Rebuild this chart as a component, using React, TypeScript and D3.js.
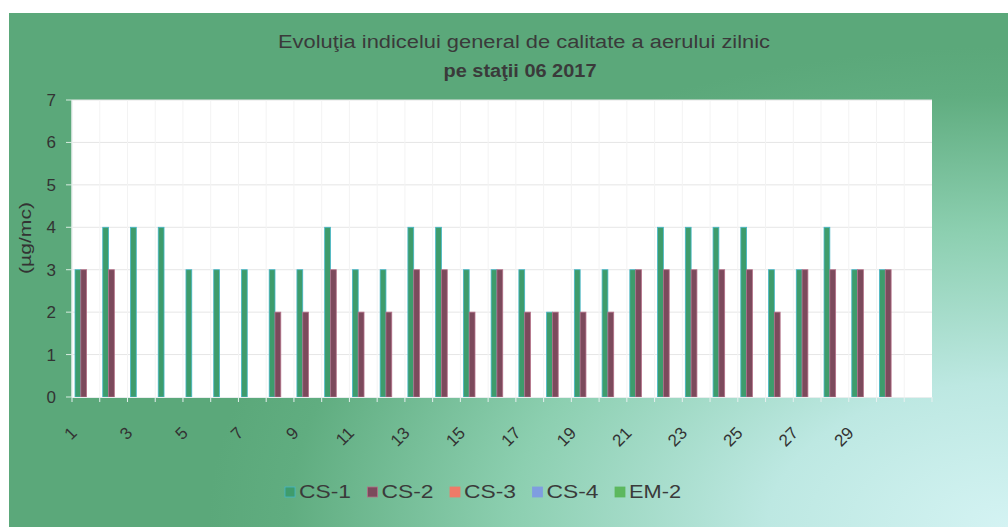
import React from "react";
import * as d3 from "d3";

const days: string[] = ["1","2","3","4","5","6","7","8","9","10","11","12","13","14","15","16","17","18","19","20","21","22","23","24","25","26","27","28","29","30",""];
const seriesNames: string[] = ["CS-1", "CS-2", "CS-3", "CS-4", "EM-2"];
const cs1: (number | null)[] = [3,4,4,4,3,3,3,3,3,4,3,3,4,4,3,3,3,2,3,3,3,4,4,4,4,3,3,4,3,3,null];
const cs2: (number | null)[] = [3,3,null,null,null,null,null,2,2,3,2,2,3,3,2,3,2,2,2,2,3,3,3,3,3,2,3,3,3,3,null];
const cs3: (number | null)[] = [];
const cs4: (number | null)[] = [];
const em2: (number | null)[] = [];
const yTicks: number[] = [0, 1, 2, 3, 4, 5, 6, 7];
const titleLines: string[] = ["Evoluţia indicelui general de calitate a aerului zilnic", "pe staţii 06 2017"];
const yTitle = "(µg/mc)";

const seriesData = [cs1, cs2, cs3, cs4, em2];
const fills = ["#3e9c6c", "#7c4a5c", "#f07a68", "#7f9de0", "#5db85e"];
const strokes = ["#45b6c8", "#b47088", "#f07a68", "#7f9de0", "#5db85e"];

const W = 1008, H = 527;
const PL = 72, PR = 932, PT = 100, PB = 397;

export default function App() {
  const x = d3.scaleBand<string>().domain(days).range([PL, PR]).paddingInner(0).paddingOuter(0);
  const xs = d3.scaleBand<string>().domain(seriesNames).range([3, 3 + 5 * 5.8]);
  const y = d3.scaleLinear().domain([0, 7]).range([PB, PT]);
  const font = "'Liberation Sans', Arial, sans-serif";
  const bw = xs.bandwidth();

  return (
    <svg width={W} height={H} style={{ position: "absolute", left: 0, top: 0, display: "block" }} fontFamily={font}>
      <defs>
        <radialGradient id="bg" gradientUnits="userSpaceOnUse" cx={1008} cy={527} r={800}
          gradientTransform="translate(1008,527) scale(1,0.6) translate(-1008,-527)">
          <stop offset="0" stopColor="#d4f3f3" />
          <stop offset="0.3" stopColor="#bde8e2" />
          <stop offset="0.62" stopColor="#8ccfb0" />
          <stop offset="0.9" stopColor="#60ad80" />
          <stop offset="1" stopColor="#5ba87a" />
        </radialGradient>
      </defs>
      <rect x={0} y={0} width={W} height={H} fill="#ffffff" />
      <rect x={9} y={13} width={W - 9} height={H - 13} fill="url(#bg)" />
      {/* plot area */}
      <rect x={PL} y={PT} width={PR - PL} height={PB - PT} fill="#ffffff" />
      {yTicks.filter(t => t > 0).map(t => (
        <line key={"g" + t} x1={PL} x2={PR} y1={y(t)} y2={y(t)} stroke="#e6e6e6" strokeWidth={1} />
      ))}
      {days.map((d, i) => (
        <line key={"vg" + i} x1={x(d)!} x2={x(d)!} y1={PT} y2={PB} stroke="#f3f3f3" strokeWidth={1} />
      ))}
      {/* bars */}
      {seriesData.map((arr, si) =>
        arr.map((v, i) => {
          if (v == null || i >= days.length) return null;
          const bx = (x(days[i]) as number) + (xs(seriesNames[si]) as number);
          return (
            <rect key={si + "-" + i} x={bx} y={y(v)} width={bw} height={y(0) - y(v)}
              fill={fills[si]} stroke={strokes[si]} strokeWidth={0.8} />
          );
        })
      )}
      {/* axes */}
      <line x1={PL} x2={PR} y1={PB + 0.5} y2={PB + 0.5} stroke="#e8eeee" strokeWidth={1.2} />
      <line x1={PL} x2={PL} y1={PT} y2={PB} stroke="#e8eeee" strokeWidth={1} />
      {days.map((d, i) => (
        <line key={"xt" + i} x1={x(d)!} x2={x(d)!} y1={PB} y2={PB + 5} stroke="#e8f0f0" strokeWidth={1} />
      ))}
      <line x1={PR} x2={PR} y1={PB} y2={PB + 5} stroke="#e8f0f0" strokeWidth={1} />
      {yTicks.map(t => (
        <line key={"yt" + t} x1={PL - 6} x2={PL} y1={y(t)} y2={y(t)} stroke="#d8ece0" strokeWidth={1} />
      ))}
      {yTicks.map(t => (
        <text key={"yl" + t} x={56} y={y(t)} dy="0.35em" textAnchor="end" fontSize={17} fill="#333">{t}</text>
      ))}
      <text transform={`translate(31,238) rotate(-90)`} textAnchor="middle" fontSize={17} fill="#333"
        textLength={72} lengthAdjust="spacingAndGlyphs">{yTitle}</text>
      {days.map((d, i) => (i % 2 === 0 && d !== "" ? (
        <text key={"xl" + i} transform={`translate(${(x(d) as number) + x.bandwidth() / 2 - 8},434) rotate(-45)`}
          textAnchor="end" fontSize={17} fill="#333">{d}</text>
      ) : null))}
      {/* title */}
      <text x={524} y={48} textAnchor="middle" fontSize={18} fill="#3a3a3a" textLength={492} lengthAdjust="spacingAndGlyphs">{titleLines[0]}</text>
      <text x={520} y={77} textAnchor="middle" fontSize={18} fontWeight="bold" fill="#3a3a3a" textLength={153} lengthAdjust="spacingAndGlyphs">{titleLines[1]}</text>
      {/* legend */}
      {seriesNames.map((s, i) => {
        const lx = 285 + i * 82.5;
        return (
          <g key={"lg" + s}>
            <rect x={lx} y={487} width={10} height={10} fill={fills[i]} stroke={strokes[i]} strokeWidth={0.8} />
            <text x={lx + 14} y={498} fontSize={18} fill="#3a3a3a" textLength={52} lengthAdjust="spacingAndGlyphs">{s}</text>
          </g>
        );
      })}
    </svg>
  );
}
